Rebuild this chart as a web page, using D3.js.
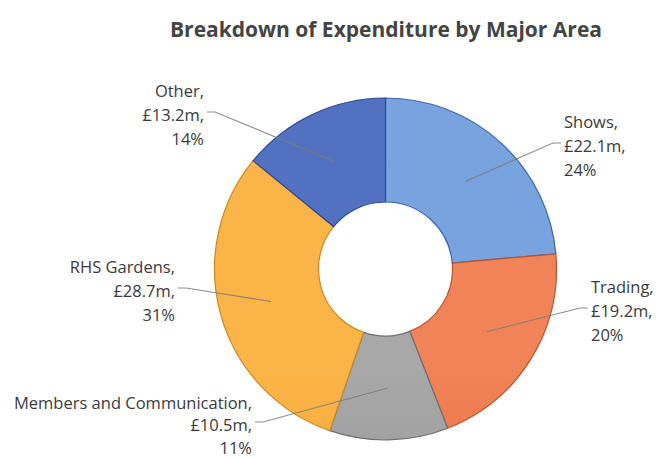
<!DOCTYPE html>
<html>
<head>
<meta charset="utf-8">
<script src="https://cdn.jsdelivr.net/npm/d3@7"></script>
<style>
  html, body { margin: 0; padding: 0; background: #ffffff; }
  svg { display: block; }
  text { font-family: "Open Sans", "DejaVu Sans", sans-serif; fill: #3a3a3a; }
</style>
</head>
<body>
<svg id="chart" width="656" height="458"></svg>
<script>
// ---- data ----
const categories = ["Shows", "Trading", "Members and Communication", "RHS Gardens", "Other"];
const amounts = [22.1, 19.2, 10.5, 28.7, 13.2];          // £m
const amountLabels = ["£22.1m", "£19.2m", "£10.5m", "£28.7m", "£13.2m"];
const percentLabels = ["24%", "20%", "11%", "31%", "14%"];
const title = "Breakdown of Expenditure by Major Area";

// ---- styling / layout ----
const colorsLight = ["#78a3de", "#f08358", "#a8a8a8", "#fbb447", "#5271c0"];
const colorsDark  = ["#4a7dcf", "#e5622b", "#8e8e8e", "#f7a328", "#3f5fb0"];
const strokes     = ["#3a67b0", "#b8542a", "#6f6f6f", "#c98a22", "#2e4a94"];
// label anchor: [x, y of middle line, text-anchor, line gap]
const labelLayout = [
  [564, 146, "start", 24],
  [591, 311, "start", 24],
  [252, 425, "end", 22.5],
  [175, 291, "end", 24],
  [204, 115, "end", 24]
];

const W = 656, H = 458;
const cx = 385.5, cy = 269, outerR = 171, innerR = 67;

const svg = d3.select("#chart");

svg.append("text")
  .attr("x", 386).attr("y", 37)
  .attr("text-anchor", "middle")
  .style("font-size", "21px").style("font-weight", "bold")
  .style("fill", "#444444")
  .text(title);

const defs = svg.append("defs");
categories.forEach((c, i) => {
  const g = defs.append("linearGradient")
    .attr("id", "grad" + i)
    .attr("gradientUnits", "userSpaceOnUse")
    .attr("x1", cx).attr("y1", cy - outerR)
    .attr("x2", cx).attr("y2", cy + outerR);
  g.append("stop").attr("offset", "0%").attr("stop-color", colorsLight[i]);
  g.append("stop").attr("offset", "100%").attr("stop-color", colorsDark[i]);
});

const pie = d3.pie().value(d => d).sort(null);
const arcs = pie(amounts);
const arc = d3.arc().innerRadius(innerR).outerRadius(outerR);
const midArc = d3.arc().innerRadius((innerR + outerR) / 2).outerRadius((innerR + outerR) / 2);

const g = svg.append("g").attr("transform", `translate(${cx},${cy})`);
g.selectAll("path.slice")
  .data(arcs)
  .join("path")
  .attr("class", "slice")
  .attr("d", arc)
  .attr("fill", (d, i) => `url(#grad${i})`)
  .attr("stroke", (d, i) => strokes[i])
  .attr("stroke-width", 1.2);

// leader lines
arcs.forEach((d, i) => {
  const [mx, my] = midArc.centroid(d);
  const px = cx + mx, py = cy + my;
  const [lx, ly, anchor] = labelLayout[i];
  const startX = anchor === "start" ? lx - 3 : lx + 3;
  const stubX = anchor === "start" ? startX - 8 : startX + 8;
  svg.append("polyline")
    .attr("points", `${startX},${ly - 3} ${stubX},${ly - 3} ${px},${py}`)
    .attr("fill", "none")
    .attr("stroke", "#7a7a7a")
    .attr("stroke-opacity", 0.85)
    .attr("stroke-width", 1.1);
});

// labels
arcs.forEach((d, i) => {
  const [lx, ly, anchor, gap] = labelLayout[i];
  const t = svg.append("text")
    .attr("text-anchor", anchor)
    .style("font-size", "16.5px");
  const lines = [categories[i] + ",", amountLabels[i] + ",", percentLabels[i]];
  lines.forEach((ln, k) => {
    t.append("tspan")
      .attr("x", lx)
      .attr("y", ly + (k - 1) * gap + 6)
      .text(ln);
  });
});
</script>
</body>
</html>
